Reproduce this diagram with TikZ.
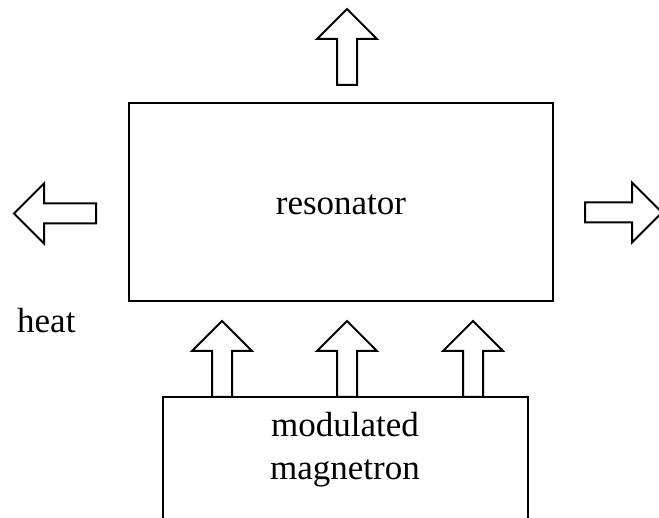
\documentclass[tikz,border=0pt]{standalone}
\usepackage{fontspec}
\setmainfont{Liberation Serif}

\tikzset{
  box/.style={draw, line width=2.5pt, rectangle, inner sep=0pt},
  txt/.style={font=\fontsize{35}{43}\selectfont, inner sep=0pt},
  % hollow block arrow, tail at the origin, pointing up
  heatarrow/.pic={
    \draw[line width=2pt, line join=miter]
      (-10,0) -- (-10,{30-#1}) -- (-30,{30-#1}) -- (0,{-#1})
      -- (30,{30-#1}) -- (10,{30-#1}) -- (10,0) -- cycle;
  }
}

\begin{document}
\begin{tikzpicture}[x=1pt, y=-1pt]
  \useasboundingbox (0,0) rectangle (659,518);
  \clip (0,0) rectangle (659,518);

  % boxes
  \node[box, minimum width=424pt, minimum height=198pt] (res) at (341,202) {};
  \node[box, minimum width=365pt, minimum height=160pt] (mag) at (345.5,477) {};

  % labels
  \node[txt, anchor=base] (restxt) at (341,215) {resonator};
  \node[txt, anchor=base] (modtxt) at (345,437) {modulated};
  \node[txt, anchor=base] (magtxt) at (345,480) {magnetron};
  \node[txt, anchor=base west] (heat) at (17,333) {heat};

  % power into the resonator
  \foreach \px in {222,347,473}
    \pic at (\px,397) {heatarrow=76};

  % heat out of the resonator
  \pic at (347,85) {heatarrow=76};
  \pic[rotate=90] at (96,213.5) {heatarrow=82};
  \pic[rotate=-90] at (585,212.5) {heatarrow=77};
\end{tikzpicture}
\end{document}
